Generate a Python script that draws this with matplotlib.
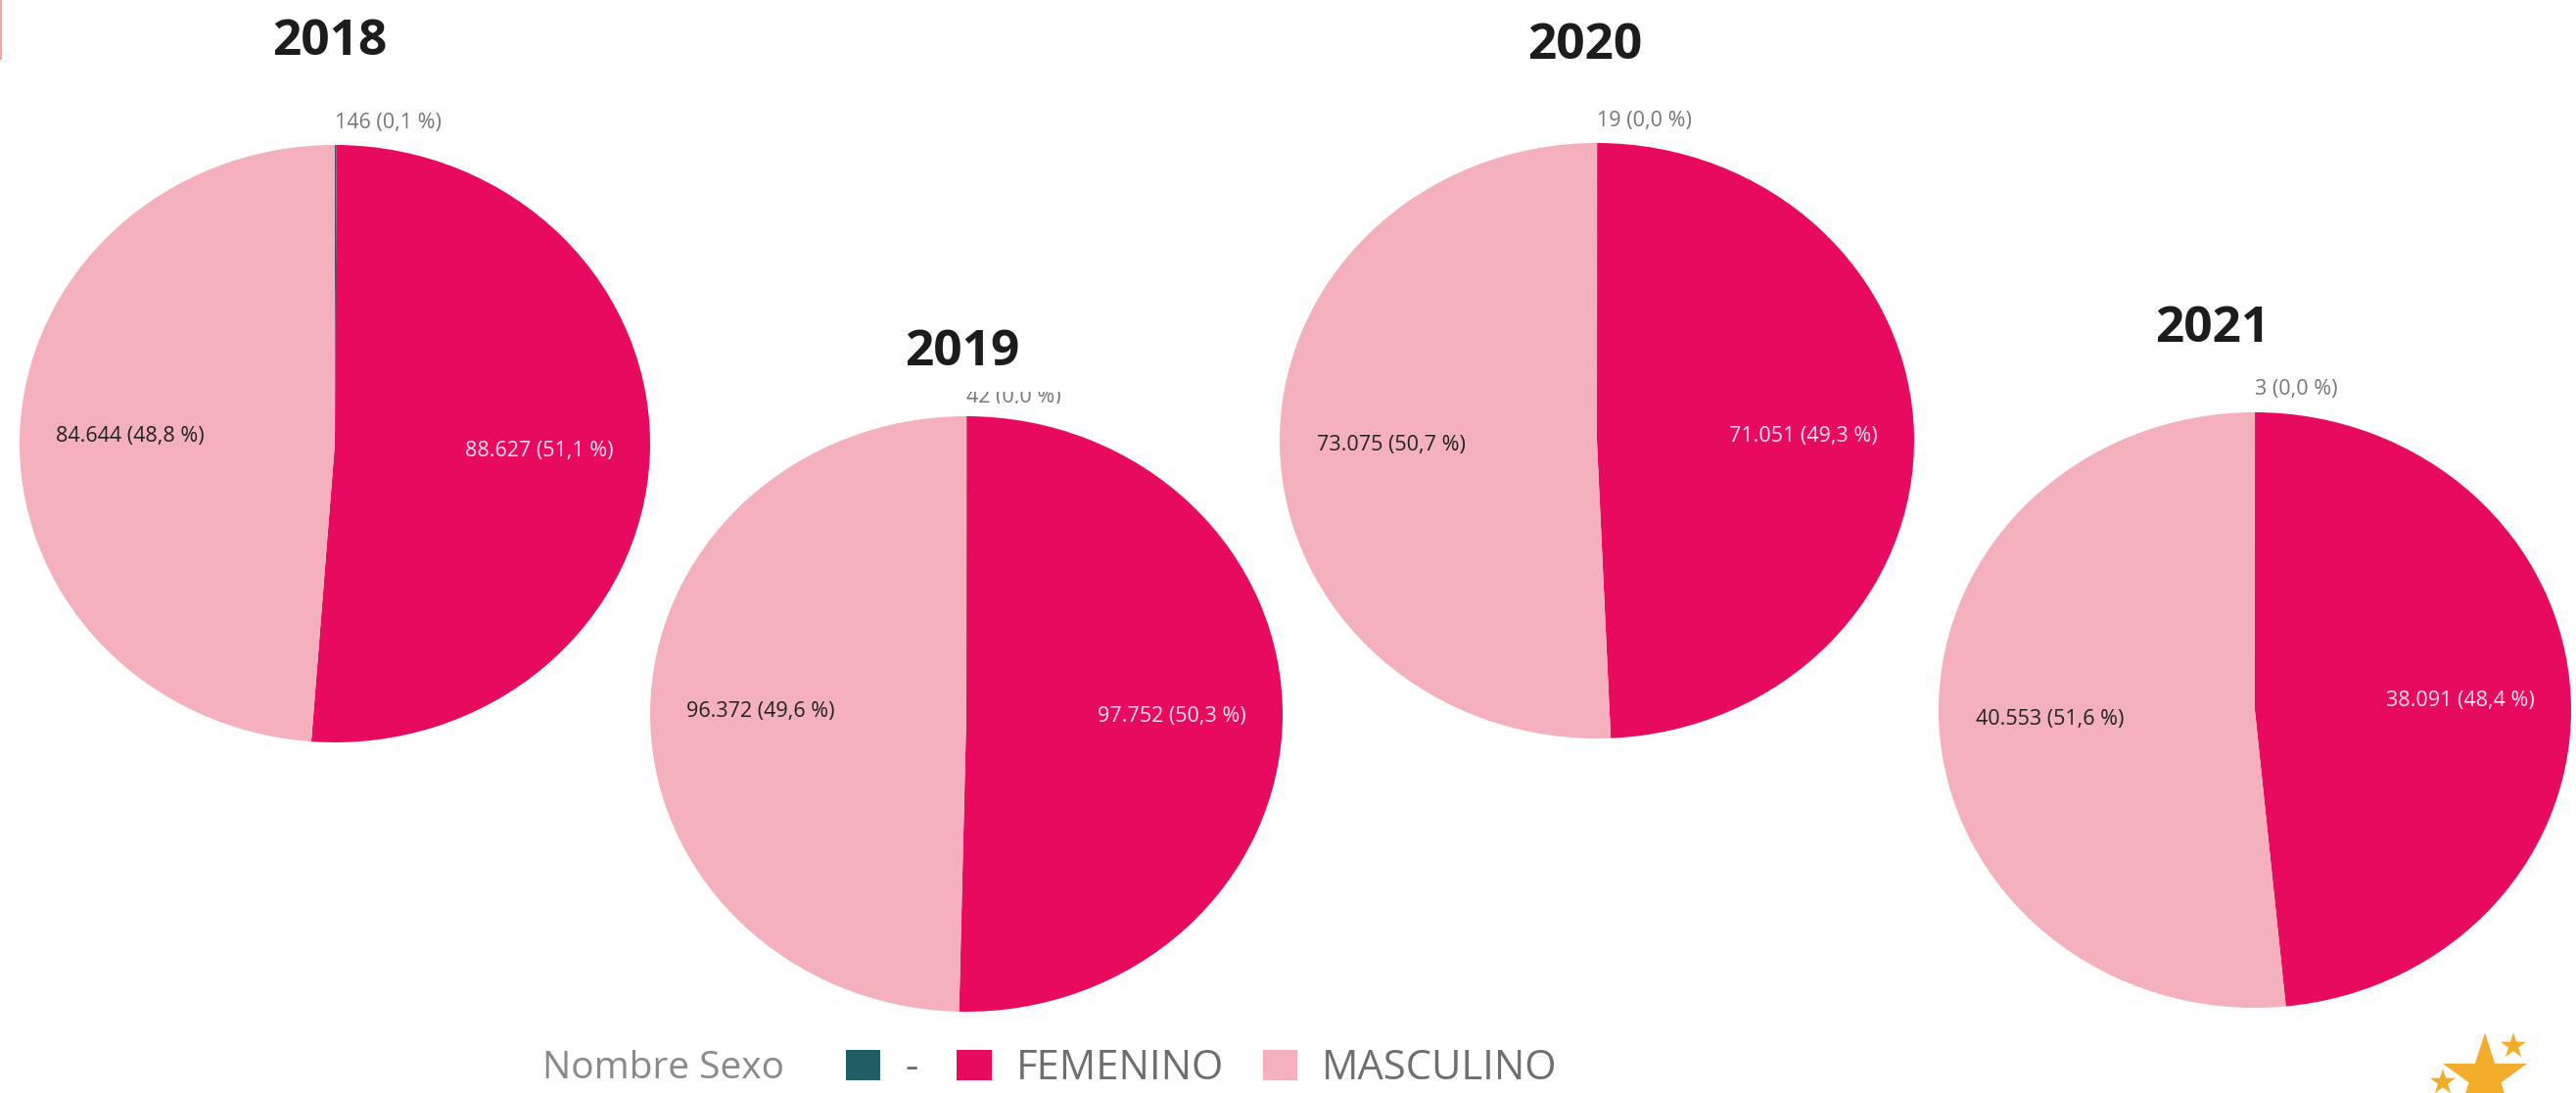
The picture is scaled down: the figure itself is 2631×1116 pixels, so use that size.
import matplotlib
matplotlib.use('Agg')
import matplotlib.pyplot as plt
from matplotlib.patches import Patch
from matplotlib.transforms import Bbox

W, H = 2631, 1116

# data
years = ['2018', '2019', '2020', '2021']
sexos = ['-', 'FEMENINO', 'MASCULINO']
guion = [146, 42, 19, 3]
femenino = [88627, 97752, 71051, 38091]
masculino = [84644, 96372, 73075, 40553]

colores = ['#1F5F63', '#E80A5F', '#F4B0BC']
label_colors = ['#777777', '#FBE3EC', '#222222']

# pixel boxes of the (slightly stretched) pies: cx, cy, rx, ry
pies = [(342, 453, 322, 305), (987, 729, 323, 304), (1631, 450, 324, 304), (2303, 725, 323, 304)]
title_pos = [(337, 43), (983, 360), (1619, 47), (2260, 336)]
top_label_y = [126, 405, 123, 398]


def fx(x):
    return x / W


def fy(y):
    return 1 - y / H


def fmt(v, total):
    pct = f'{100 * v / total:.1f}'.replace('.', ',')
    return f'{v:,}'.replace(',', '.') + f' ({pct} %)'


plt.rcParams['font.family'] = ['Open Sans', 'DejaVu Sans']
fig = plt.figure(figsize=(W / 100, H / 100), dpi=100, facecolor='white')

for i, year in enumerate(years):
    cx, cy, rx, ry = pies[i]
    ax = fig.add_axes([fx(cx - rx), fy(cy + ry), 2 * rx / W, 2 * ry / H])
    vals = [guion[i], femenino[i], masculino[i]]
    total = sum(vals)
    labels = [fmt(v, total) for v in vals]
    wedges, texts = ax.pie(vals, labels=labels, colors=colores, startangle=90, counterclock=False,
                           labeldistance=0.65, textprops={'fontsize': 15.5})
    ax.set_aspect('auto')
    ax.set_xlim(-1, 1)
    ax.set_ylim(-1, 1)
    for t, c in zip(texts, label_colors):
        t.set_color(c)
        t.set_ha('center')
        t.set_va('center')
    # tiny slice label sits just above the 12 o'clock point
    texts[0].set_ha('left')
    texts[0].set_position((0, 1 + (cy - ry - top_label_y[i]) / ry))
    if year == '2019':
        # the 2019 label is cut off in the source image
        texts[0].set_clip_on(True)
        texts[0].set_clip_box(Bbox([[0, H - 412], [W, H - 400]]))
    fig.text(fx(title_pos[i][0]), fy(title_pos[i][1]), year, fontsize=37, fontweight='bold',
             color='#1c1c1c', ha='center', va='center')

# legend
handles = [Patch(facecolor=c, edgecolor='none') for c in colores]
fig.text(fx(554), fy(1091), 'Nombre Sexo', fontsize=28, color='#8a8a8a', ha='left', va='center')
fig.legend(handles, sexos, ncol=3, loc='center left', bbox_to_anchor=(fx(864), fy(1091)), frameon=False,
           fontsize=30, labelcolor='#6f6f6f', borderpad=0, borderaxespad=0, handlelength=0.85,
           handleheight=0.8, handletextpad=0.6, columnspacing=0.95)

# overlay in pixel coords for the decorations
over = fig.add_axes([0, 0, 1, 1], facecolor='none')
over.set_xlim(0, W)
over.set_ylim(H, 0)
over.axis('off')
over.plot([1, 1], [0, 60], color='#F9A5A5', lw=1.5)
over.scatter([2538, 2567, 2495], [1100, 1068, 1105], marker='*', s=[4260, 400, 400], color='#F2AE2B', linewidths=0)

fig.savefig('out.png', dpi=100)
